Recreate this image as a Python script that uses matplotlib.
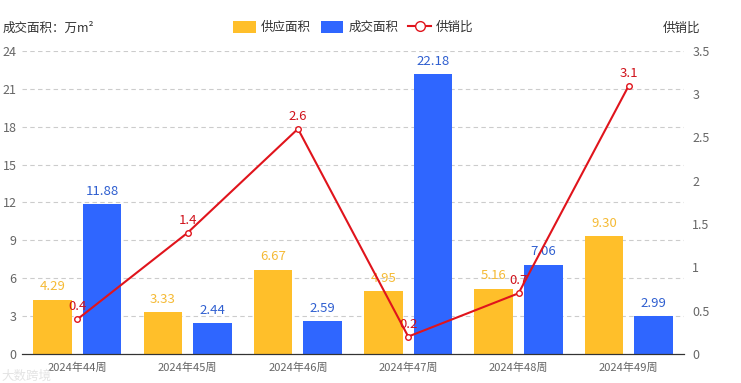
import matplotlib
matplotlib.use("Agg")
import matplotlib.pyplot as plt
import numpy as np
from matplotlib.lines import Line2D
from matplotlib.patches import Patch

plt.rcParams['font.family'] = ['Noto Sans CJK SC', 'DejaVu Sans']

weeks = ["2024年44周", "2024年45周", "2024年46周", "2024年47周", "2024年48周", "2024年49周"]
supply = [4.29, 3.33, 6.67, 4.95, 5.16, 9.30]
deal = [11.88, 2.44, 2.59, 22.18, 7.06, 2.99]
ratio = [0.4, 1.4, 2.6, 0.2, 0.7, 3.1]

YELLOW = "#FFBF2A"
BLUE = "#2F66FF"
RED = "#E0141C"
GRID = "#CCCCCC"
TXT = "#666666"

fig = plt.figure(figsize=(7.41, 3.83), dpi=100)
ax = fig.add_axes([0.030, 0.076, 0.893, 0.791])
ax2 = ax.twinx()

x = np.arange(len(weeks))
w = 0.35
off = 0.225
ax.bar(x - off, supply, w, color=YELLOW, zorder=2)
ax.bar(x + off, deal, w, color=BLUE, zorder=2)
for xi, v in zip(x, supply):
    ax.text(xi - off, v + 0.5, f"{v:.2f}", ha="center", va="bottom", color="#F5BA35", fontsize=9.5)
for xi, v in zip(x, deal):
    ax.text(xi + off, v + 0.5, f"{v:.2f}", ha="center", va="bottom", color="#2F5FD0", fontsize=9.5)

ax2.plot(x, ratio, color=RED, lw=1.5, marker="o", ms=4, mfc="white", mec=RED, mew=1, zorder=5)
for xi, v in zip(x, ratio):
    ax2.text(xi, v + 0.07, f"{v:g}", ha="center", va="bottom", color="#D0121B", fontsize=9.5)

ax.set_xlim(-0.5, len(weeks) - 0.5)
ax.set_ylim(0, 24)
ax.set_yticks(range(0, 25, 3))
ax2.set_ylim(0, 3.5)
ax2.set_yticks(np.arange(0, 3.51, 0.5))
ax2.set_yticklabels(["0", "0.5", "1", "1.5", "2", "2.5", "3", "3.5"])

ax.grid(axis="y", color=GRID, ls=(0, (4, 3)), lw=0.8, zorder=0)
ax.set_axisbelow(True)
ax.set_xticks(x)
ax.set_xticklabels(weeks)
for a in (ax, ax2):
    for s in ("top", "left", "right"):
        a.spines[s].set_visible(False)
    a.spines["bottom"].set_color("#333333")
    a.tick_params(axis="both", length=0, colors=TXT, labelsize=9)
ax.tick_params(axis="x", labelsize=8, pad=6)
ax.tick_params(axis="y", pad=4)
ax2.tick_params(axis="y", pad=6)

fig.text(0.003, 0.925, "成交面积：万m²", fontsize=9, color="#333333", ha="left", va="center")
fig.text(0.945, 0.925, "供销比", fontsize=9, color="#333333", ha="right", va="center")

handles = [
    Patch(facecolor=YELLOW, edgecolor="none"),
    Patch(facecolor=BLUE, edgecolor="none"),
    Line2D([0], [0], color=RED, lw=1.5, marker="o", ms=7, mfc="white", mec=RED),
]
fig.legend(handles, ["供应面积", "成交面积", "供销比"], loc="center", bbox_to_anchor=(0.477, 0.928),
           ncol=3, frameon=False, fontsize=9, handlelength=1.8, handleheight=1.1,
           columnspacing=0.8, handletextpad=0.4, labelcolor="#333333")

fig.text(0.002, 0.018, "大数跨境", fontsize=9, color="#DDDDDD", alpha=0.8, ha="left", va="center")

fig.savefig("out.png", dpi=100)
